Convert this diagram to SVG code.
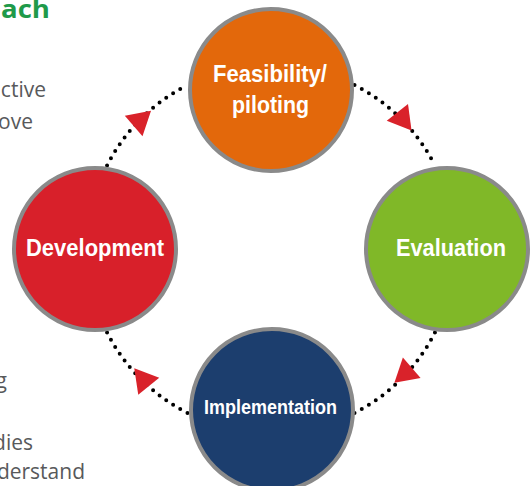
<svg xmlns="http://www.w3.org/2000/svg" xmlns:xlink="http://www.w3.org/1999/xlink" width="530" height="486" viewBox="0 0 530 486">
<style>
.node{stroke:#8a8a8a;stroke-width:4}
.lbl{font-family:"Liberation Sans",Arial,sans-serif;font-weight:bold;fill:#ffffff;text-anchor:middle}
.body{font-family:"Open Sans","Liberation Sans",sans-serif;font-size:21px;fill:#58595b;text-anchor:end}
.dots{fill:none;stroke:#000;stroke-width:4;stroke-linecap:round;stroke-dasharray:0 1}
.arr{fill:#d9222a}
</style>
<defs>
<path id="arrow" d="M15,0 L-8,-13.5 L-8,13.5 Z"/>
</defs>
<rect width="530" height="486" fill="#ffffff"/>
<g id="sidetext">
<text x="50" y="18" textLength="49" lengthAdjust="spacingAndGlyphs" style="font-family:'Open Sans','Liberation Sans',sans-serif;font-weight:bold;font-size:25px;fill:#1f9a4a;text-anchor:end">ach</text>
<text class="body" x="46" y="97">ctive</text>
<text class="body" x="33" y="129">ove</text>
<text class="body" x="7" y="388">g</text>
<text class="body" x="33" y="450">dies</text>
<text class="body" x="85" y="479">derstand</text>
</g>
<g id="connectors">
<path class="dots" pathLength="14" d="M354.53,85.05 A184,184 0 0 1 434.95,165.47"/>
<path class="dots" pathLength="14" d="M434.95,332.53 A184,184 0 0 1 354.53,412.95"/>
<path class="dots" pathLength="14" d="M187.47,412.95 A184,184 0 0 1 107.05,332.53"/>
<path class="dots" pathLength="14" d="M107.05,165.47 A184,184 0 0 1 187.47,85.05"/>
<use href="#arrow" class="arr" transform="translate(402.3,118.7) rotate(52)"/>
<use href="#arrow" class="arr" transform="translate(405.7,373) rotate(139)"/>
<use href="#arrow" class="arr" transform="translate(143.7,380) rotate(231)"/>
<use href="#arrow" class="arr" transform="translate(139.7,120.7) rotate(319)"/>
</g>
<g id="feasibility">
<circle class="node" cx="271" cy="90" r="81" fill="#e3680b"/>
<text class="lbl" x="270" y="82" font-size="23" textLength="114" lengthAdjust="spacingAndGlyphs">Feasibility/</text>
<text class="lbl" x="270.5" y="113" font-size="23" textLength="77" lengthAdjust="spacingAndGlyphs">piloting</text>
</g>
<g id="evaluation">
<circle class="node" cx="447" cy="249" r="81" fill="#80b828"/>
<text class="lbl" x="451" y="256" font-size="23" textLength="110" lengthAdjust="spacingAndGlyphs">Evaluation</text>
</g>
<g id="implementation">
<circle class="node" cx="272" cy="410" r="81" fill="#1c3e6e"/>
<text class="lbl" x="270.5" y="414" font-size="19.5" textLength="133" lengthAdjust="spacingAndGlyphs">Implementation</text>
</g>
<g id="development">
<circle class="node" cx="95" cy="249" r="81" fill="#d8202a"/>
<text class="lbl" x="95" y="256" font-size="23" textLength="138" lengthAdjust="spacingAndGlyphs">Development</text>
</g>
</svg>
